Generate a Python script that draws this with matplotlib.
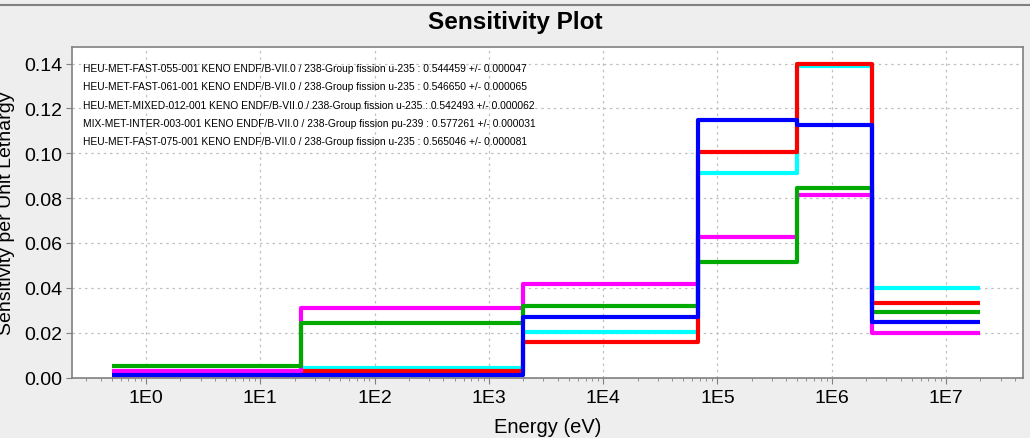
import matplotlib
matplotlib.use("Agg")
import matplotlib.pyplot as plt
from matplotlib.lines import Line2D
from matplotlib.ticker import LogLocator, FixedLocator, NullFormatter

# ---- data ----
edges = [0.5, 22.5, 2000, 67000, 5.0e5, 2.25e6, 2.0e7]
labels = [
    "HEU-MET-FAST-055-001 KENO ENDF/B-VII.0 / 238-Group fission u-235 : 0.544459 +/- 0.000047",
    "HEU-MET-FAST-061-001 KENO ENDF/B-VII.0 / 238-Group fission u-235 : 0.546650 +/- 0.000065",
    "HEU-MET-MIXED-012-001 KENO ENDF/B-VII.0 / 238-Group fission u-235 : 0.542493 +/- 0.000062",
    "MIX-MET-INTER-003-001 KENO ENDF/B-VII.0 / 238-Group fission pu-239 : 0.577261 +/- 0.000031",
    "HEU-MET-FAST-075-001 KENO ENDF/B-VII.0 / 238-Group fission u-235 : 0.565046 +/- 0.000081",
]
red_vals = [0.0012, 0.0030, 0.0160, 0.1006, 0.1400, 0.0333]
cyan_vals = [0.0015, 0.0044, 0.0203, 0.0910, 0.1390, 0.0401]
magenta_vals = [0.0030, 0.0310, 0.0418, 0.0628, 0.0815, 0.0199]
green_vals = [0.0050, 0.0243, 0.0317, 0.0514, 0.0847, 0.0293]
blue_vals = [0.0012, 0.0013, 0.0272, 0.1147, 0.1124, 0.0247]
y_ticks = [0.00, 0.02, 0.04, 0.06, 0.08, 0.10, 0.12, 0.14]
x_ticks = [1e0, 1e1, 1e2, 1e3, 1e4, 1e5, 1e6, 1e7]
x_ticklabels = ["1E0", "1E1", "1E2", "1E3", "1E4", "1E5", "1E6", "1E7"]

series = [
    (red_vals, "#ff0000", labels[0], 3),
    (cyan_vals, "#00ffff", labels[1], 2),
    (green_vals, "#00aa00", labels[2], 5),
    (magenta_vals, "#ff00ff", labels[3], 4),
    (blue_vals, "#0000ff", labels[4], 6),
]

plt.rcParams['font.family'] = ['Liberation Sans', 'DejaVu Sans']
W, H = 1030, 439
fig = plt.figure(figsize=(W / 100, H / 100), dpi=100, facecolor="#eeeeee")
ax = fig.add_axes([72 / W, 1 - 378.5 / H, (1023 - 72) / W, (378.5 - 48) / H])
ax.set_facecolor("white")

handles = []
for vals, col, lab, z in series:
    ax.stairs(vals, edges, baseline=None, color=col, linewidth=3.0,
              zorder=z, joinstyle="round")
    handles.append(Line2D([], [], color=col, label=lab))

ax.set_xscale("log")
ax.set_xlim(0.225, 4.71e7)
ax.set_ylim(0, 0.1474)

ax.xaxis.set_major_locator(FixedLocator(x_ticks))
ax.set_xticklabels(x_ticklabels)
ax.xaxis.set_minor_locator(LogLocator(base=10, subs=range(2, 10), numticks=50))
ax.xaxis.set_minor_formatter(NullFormatter())
ax.set_yticks(y_ticks)
ax.set_yticklabels([f"{v:.2f}" for v in y_ticks])

ax.tick_params(axis="both", which="major", direction="out", length=4,
               color="#808080", labelsize=14, pad=4)
ax.tick_params(axis="y", which="major", pad=3)
ax.tick_params(axis="x", which="minor", direction="out", length=2.5, color="#808080")
ax.grid(True, which="major", linestyle=(0, (2, 3)), color="#c0c0c0", linewidth=0.9)
ax.set_axisbelow(True)
for s in ax.spines.values():
    s.set_color("#808080")
    s.set_linewidth(1.2)

ax.set_xlabel("Energy (eV)", fontsize=14.5, labelpad=8)
ax.set_ylabel("Sensitivity per Unit Lethargy", fontsize=14)
ax.yaxis.set_label_coords(-57 / 951, 0.5)

leg = ax.legend(handles=handles, loc="upper left", bbox_to_anchor=(0.0113, 0.952),
                frameon=False, handlelength=0, handletextpad=0, borderpad=0,
                borderaxespad=0, labelspacing=0.81,
                prop={"family": "Liberation Sans", "size": 7.4})
for h in leg.legend_handles:
    h.set_visible(False)

fig.text(0.5, 1 - 22 / H, "Sensitivity Plot", ha="center", va="center",
         fontsize=17.5, fontweight="bold")
fig.add_artist(Line2D([0, 1], [1 - 6 / H, 1 - 6 / H], transform=fig.transFigure,
                      color="#808080", linewidth=1.5))

fig.savefig("out.png", dpi=100, facecolor=fig.get_facecolor())
